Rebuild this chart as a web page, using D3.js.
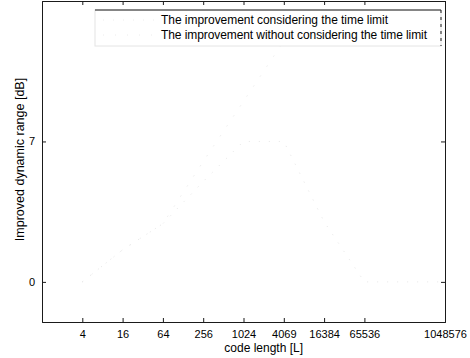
<!DOCTYPE html>
<html>
<head>
<meta charset="utf-8">
<script src="https://cdn.jsdelivr.net/npm/d3@7"></script>
<style>
  body { margin: 0; background: #fff; }
  svg { display: block; font-family: "Liberation Sans", Arial, sans-serif; }
</style>
</head>
<body>
<svg id="chart" width="470" height="358"></svg>
<script>
// code lengths and tick labels (as printed in the figure)
const codeLengths = [4, 16, 64, 256, 1024, 4096, 16384, 65536, 1048576];
const tickLabels = ['4', '16', '64', '256', '1024', '4069', '16384', '65536', '1048576'];
const yTicks = [0, 7];
// series (barely legible in the scan, estimated)
const withLimit = [0, 1.6, 2.9, 5.0, 7.0, 7.0, 3.0, 0, 0];
const withoutLimit = [0, 1.6, 2.9, 6.0, 9.0, 12.0, 12.0, 12.0, 12.0];
const seriesNames = [
  'The improvement considering the time limit',
  'The improvement without considering the time limit'
];

const svg = d3.select('#chart');
const margin = { top: 1, right: 25, bottom: 36, left: 42 };
const width = 470 - margin.left - margin.right;
const height = 358 - margin.top - margin.bottom;
const axisColor = '#1a1a1a';

const g = svg.append('g').attr('transform', `translate(${margin.left},${margin.top})`);

const x = d3.scaleLog().base(2).domain([1, 1048576]).range([0, width]);
const y = d3.scaleLinear().domain([-2, 14]).range([height, 0]);

// faint data lines (nearly lost in the reference scan)
const line = d3.line()
  .x((d, i) => x(codeLengths[i]))
  .y(d => y(d));

[withLimit, withoutLimit].forEach((s, k) => {
  g.append('path')
    .datum(s)
    .attr('d', line)
    .attr('fill', 'none')
    .attr('stroke', '#e6e6e6')
    .attr('stroke-width', 1)
    .attr('stroke-dasharray', k === 0 ? '1,9' : '1,11');
});

// axes, ticks pointing inward like MATLAB
const xAxis = g.append('g')
  .attr('transform', `translate(0,${height})`)
  .call(d3.axisBottom(x).tickValues(codeLengths).tickSize(-4).tickPadding(8)
    .tickFormat((d, i) => tickLabels[i]));
const xTop = g.append('g')
  .call(d3.axisTop(x).tickValues(codeLengths).tickSize(-4).tickFormat(''));
const yAxis = g.append('g')
  .call(d3.axisLeft(y).tickValues(yTicks).tickSize(-4).tickPadding(7));
const yRight = g.append('g')
  .attr('transform', `translate(${width},0)`)
  .call(d3.axisRight(y).tickValues(yTicks).tickSize(-4).tickFormat(''));

[xAxis, xTop, yAxis, yRight].forEach(a => {
  a.select('.domain').attr('stroke', axisColor);
  a.selectAll('.tick line').attr('stroke', axisColor);
  a.selectAll('.tick text').attr('fill', '#000').style('font-size', '11px');
});

// legend (left and bottom edges faded out in the scan)
const legend = g.append('g').attr('transform', 'translate(53,9)');
legend.append('rect')
  .attr('width', 346).attr('height', 36)
  .attr('fill', '#fff')
  .attr('stroke', '#e4e4e4').attr('stroke-width', 1);
legend.append('line')
  .attr('x1', 0).attr('x2', 346).attr('y1', 0).attr('y2', 0)
  .attr('stroke', axisColor);
legend.append('line')
  .attr('x1', 346).attr('x2', 346).attr('y1', 0).attr('y2', 36)
  .attr('stroke', axisColor).attr('stroke-dasharray', '3,4');
const textWidths = [227, 266];
seriesNames.forEach((name, i) => {
  legend.append('line')
    .attr('x1', 8).attr('x2', 60)
    .attr('y1', 10 + i * 15).attr('y2', 10 + i * 15)
    .attr('stroke', '#ececec')
    .attr('stroke-dasharray', i === 0 ? '1,9' : '1,11');
  legend.append('text')
    .attr('x', 66).attr('y', 14 + i * 15)
    .style('font-size', '12px')
    .attr('fill', '#000')
    .attr('textLength', textWidths[i])
    .attr('lengthAdjust', 'spacing')
    .text(name);
});

// axis titles
svg.append('text')
  .attr('x', margin.left + x(2048)).attr('y', 352)
  .attr('text-anchor', 'middle')
  .style('font-size', '12px')
  .text('code length [L]');
svg.append('text')
  .attr('transform', `translate(24,${margin.top + y(6.1)}) rotate(-90)`)
  .attr('text-anchor', 'middle')
  .style('font-size', '12.5px')
  .text('Improved dynamic range [dB]');
</script>
</body>
</html>
